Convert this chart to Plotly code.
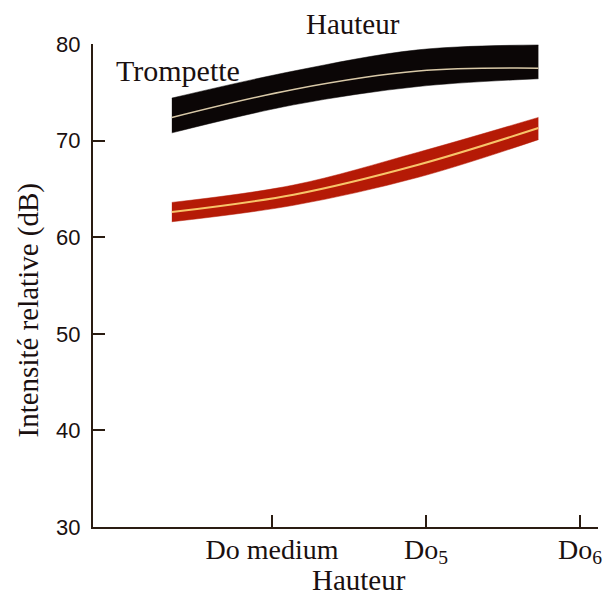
import plotly.graph_objects as go

# Pitch positions (octave number: 4 = Do medium, 5 = Do5, 6 = Do6)
pitch = [3.35, 4.14, 4.95, 5.73]

# Trompette band (dB)
trp_top = [74.4, 77.2, 79.4, 79.9]
trp_mid = [72.4, 75.3, 77.2, 77.5]
trp_low = [70.8, 73.7, 75.6, 76.4]

# Second (red) band (dB)
red_top = [63.6, 65.4, 68.8, 72.4]
red_mid = [62.6, 64.4, 67.5, 71.3]
red_low = [61.6, 63.3, 66.2, 70.1]

tick_vals = [4, 5, 6, 6.117]
tick_text = ["Do medium", "Do<sub>5</sub>", "Do<sub>6</sub>", ""]
y_ticks = [30, 40, 50, 60, 70, 80]

FONT = "Liberation Serif"
AX = "#2a1c12"
TXT = "#1a1010"

fig = go.Figure()

def band(low, top, mid, fill, midcol, midw):
    fig.add_trace(go.Scatter(x=pitch, y=low, mode="lines", line=dict(width=0.5, color=fill, shape="spline"),
                             showlegend=False, hoverinfo="skip"))
    fig.add_trace(go.Scatter(x=pitch, y=top, mode="lines", line=dict(width=0.5, color=fill, shape="spline"),
                             fill="tonexty", fillcolor=fill, showlegend=False, hoverinfo="skip"))
    fig.add_trace(go.Scatter(x=pitch, y=mid, mode="lines", line=dict(width=midw, color=midcol, shape="spline"),
                             showlegend=False))

band(trp_low, trp_top, trp_mid, "#0b0606", "#d9c9a8", 1.5)
band(red_low, red_top, red_mid, "#b51a06", "#f7c46a", 2)

fig.add_annotation(x=3.39, y=77.3, xref="x", yref="y", text="Trompette", showarrow=False,
                   xanchor="center", yanchor="middle",
                   font=dict(family=FONT, size=30, color=TXT))

fig.add_annotation(x=0.515, y=1, xref="paper", yref="paper", text="Hauteur", showarrow=False,
                   xanchor="center", yanchor="middle", yshift=20,
                   font=dict(family=FONT, size=29, color=TXT))

fig.add_annotation(x=0.527, y=0, xref="paper", yref="paper", text="Hauteur", showarrow=False,
                   xanchor="center", yanchor="middle", yshift=-53,
                   font=dict(family=FONT, size=29, color=TXT))

fig.add_annotation(x=-0.128, y=0.449, xref="paper", yref="paper", text="Intensité relative (dB)",
                   showarrow=False, textangle=-90, xanchor="center", yanchor="middle",
                   font=dict(family=FONT, size=29, color=TXT))

fig.update_layout(
    width=609, height=603,
    margin=dict(l=93, r=11, t=44, b=76),
    paper_bgcolor="white", plot_bgcolor="white",
    font=dict(family=FONT, size=28, color=TXT),
    showlegend=False,
)
fig.update_xaxes(range=[2.838, 6.117], showgrid=False, zeroline=False, automargin=False,
                 showline=True, linecolor=AX, linewidth=2,
                 tickvals=tick_vals, ticktext=tick_text, ticks="inside", ticklen=12,
                 tickwidth=2, tickcolor=AX, ticklabelstandoff=-4,
                 tickfont=dict(family=FONT, size=28, color=TXT))
fig.update_yaxes(range=[30, 80], showgrid=False, zeroline=False, automargin=False,
                 showline=True, linecolor=AX, linewidth=2,
                 tickvals=y_ticks, ticks="inside", ticklen=12, tickwidth=2, tickcolor=AX,
                 ticklabelstandoff=6, tickfont=dict(family="Liberation Sans", size=22, color=TXT))

fig.write_html("out.html", config={"displayModeBar": False},
               post_script="document.body.style.margin='0';")
